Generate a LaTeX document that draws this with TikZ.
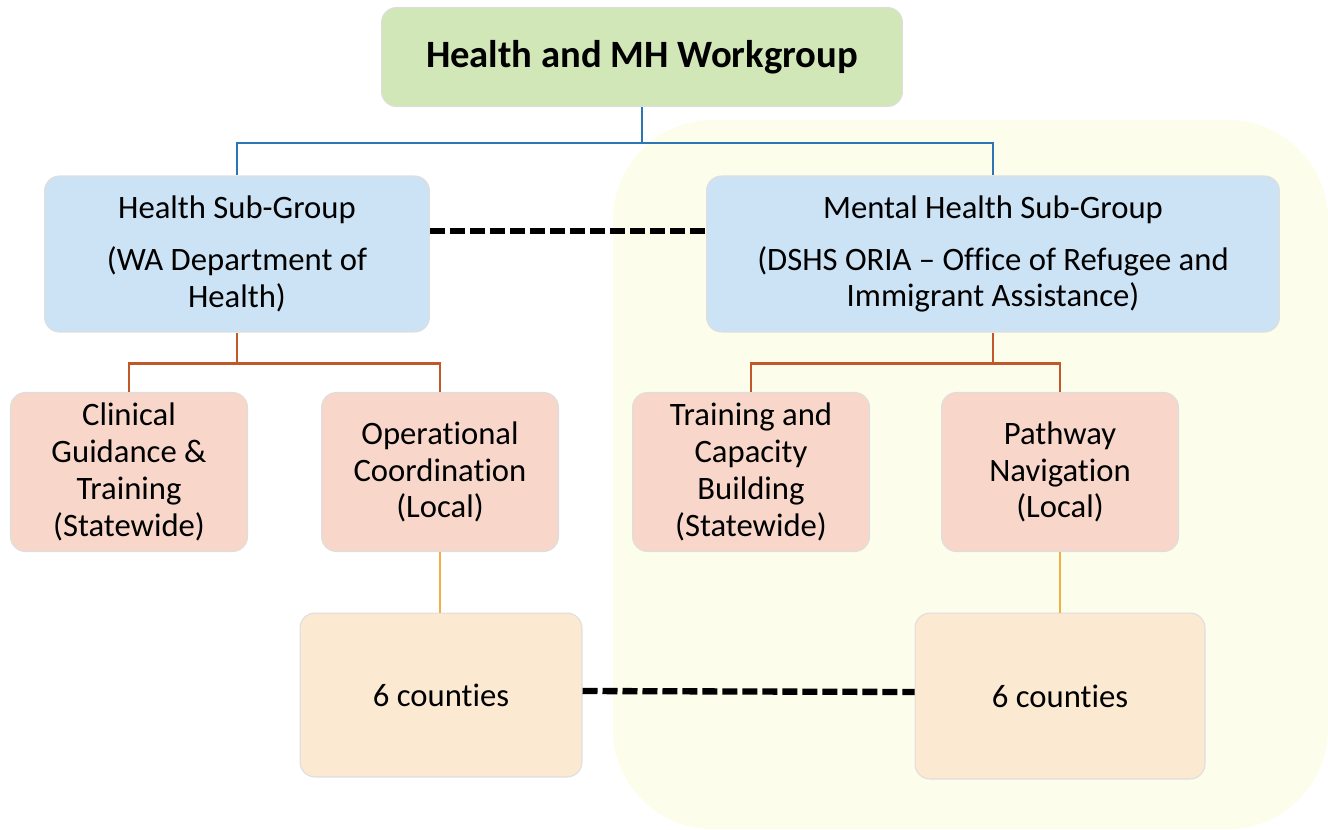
\documentclass[tikz,border=0pt]{standalone}
\usepackage{fontspec}
\setmainfont{Carlito}[Ligatures=CommonOff]
\usetikzlibrary{calc}

\definecolor{wgGreen}{HTML}{D1E7B7}
\definecolor{subBlue}{HTML}{CCE3F5}
\definecolor{taskPink}{HTML}{F8D7CA}
\definecolor{cntyPeach}{HTML}{FBE9D2}
\definecolor{mhZone}{HTML}{FCFDEA}
\definecolor{lnBlue}{HTML}{2E75B6}
\definecolor{lnBrown}{HTML}{C0582A}
\definecolor{lnOrange}{HTML}{F2AE45}

\begin{document}
\begin{tikzpicture}[x=0.02cm,y=-0.02cm,
    box/.style={draw=black!13,line width=0.6pt,rounded corners=0.3cm,align=center,
      inner sep=2pt,font=\fontsize{18.6}{21}\selectfont},
    task/.style={box,fill=taskPink,minimum width=4.74cm,minimum height=3.18cm},
    tie/.style={line width=3.6pt,dash pattern=on 0.3cm off 0.1cm}]

  \useasboundingbox (0,0) rectangle (1328,829);

  % mental health side
  \fill [mhZone,rounded corners=2cm] (613,120) rectangle (1328,829);

  \node [box,fill=wgGreen,minimum width=10.42cm,minimum height=1.98cm,
         font=\fontsize{22}{26}\selectfont\bfseries] (wg) at (642,57) {Health and MH Workgroup};

  \node [box,fill=subBlue,minimum width=7.7cm,minimum height=3.12cm] (hsub) at (237,254)
    {Health Sub-Group\\[0.3cm](WA Department of\\Health)};
  \node [box,fill=subBlue,minimum width=11.46cm,minimum height=3.12cm] (mhsub) at (993,254)
    {Mental Health Sub-Group\\[0.3cm](DSHS ORIA -- Office of Refugee and\\Immigrant Assistance)};

  \node [task] (clin) at (129,472) {Clinical\\Guidance \&\\Training\\(Statewide)};
  \node [task] (oper) at (440,472) {Operational\\Coordination\\(Local)};
  \node [task] (train) at (751,472) {Training and\\Capacity\\Building\\(Statewide)};
  \node [task] (path) at (1060,472) {Pathway\\Navigation\\(Local)};

  \node [box,fill=cntyPeach,minimum width=5.64cm,minimum height=3.28cm] (cntyH) at (441,695) {6 counties};
  \node [box,fill=cntyPeach,minimum width=5.8cm,minimum height=3.32cm] (cntyMH) at (1060,696) {6 counties};

  \path [draw,lnBlue,line width=1.2pt]
    (wg.south) -- ++(0,36) -| (hsub.north)
    (wg.south) -- ++(0,36) -| (mhsub.north);

  \path [draw,lnBrown,line width=1.2pt]
    (hsub.south) -- ++(0,31) -| (clin.north)
    (hsub.south) -- ++(0,31) -| (oper.north)
    (mhsub.south) -- ++(0,31) -| (train.north)
    (mhsub.south) -- ++(0,31) -| (path.north);

  \path [draw,lnOrange,line width=1.2pt]
    (oper.south) -- (oper.south |- cntyH.north)
    (path.south) -- (path.south |- cntyMH.north);

  \draw [tie] ([yshift=0.46cm]hsub.east) -- ([yshift=0.46cm]mhsub.west);
  \draw [tie] ([yshift=0.08cm]cntyH.east) -- ([yshift=0.08cm]cntyMH.west);

\end{tikzpicture}
\end{document}
